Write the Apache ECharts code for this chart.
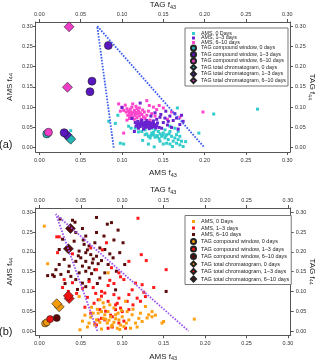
<!DOCTYPE html>
<html>
<head>
<meta charset="utf-8">
<script src="https://cdn.jsdelivr.net/npm/echarts@6/dist/echarts.min.js"></script>
<style>html,body{margin:0;padding:0;background:#fff}#main{width:320px;height:362px}</style>
</head>
<body>
<div id="main"></div>
<script>
// tick values shared by all four axes of both panels
var tickVals = [0, 0.05, 0.10, 0.15, 0.20, 0.25, 0.30];

var legendNames = ['AMS, 0 Days', 'AMS, 1\u20133 days', 'AMS, 6\u201310 days',
    'TAG compound window, 0 days', 'TAG compound window, 1\u20133 days', 'TAG compound window, 6\u201310 days',
    'TAG total chromatogram, 0 days', 'TAG total chromatogram, 1\u20133 days', 'TAG total chromatogram, 6\u201310 days'];

// triangle guide lines [f43, f44]
var triangleA = [[0.09, 0], [0.07, 0.30], [0.20, 0]];
var triangleB = [[0.07, 0], [0.02, 0.295], [0.18, 0]];

// ---- panel (a) ----
var amsA0 = [[0.084,0.065],[0.095,0.080],[0.098,0.011],[0.102,0.009],[0.108,0.053],[0.111,0.048],[0.116,0.048],[0.120,0.039],[0.124,0.040],[0.128,0.032],[0.130,0.034],[0.132,0.028],[0.134,0.024],[0.136,0.036],[0.138,0.032],[0.140,0.026],[0.142,0.030],[0.144,0.040],[0.146,0.034],[0.148,0.028],[0.150,0.036],[0.152,0.024],[0.154,0.032],[0.156,0.020],[0.158,0.040],[0.160,0.028],[0.162,0.016],[0.164,0.024],[0.166,0.032],[0.168,0.020],[0.170,0.007],[0.172,0.016],[0.174,0.003],[0.167,0.098],[0.164,0.048],[0.152,0.044],[0.139,0.002],[0.132,0.009],[0.150,0.009],[0.154,0.011],[0.146,0.016],[0.158,0.009],[0.161,0.003],[0.166,0.011],[0.136,0.048],[0.140,0.044],[0.128,0.044],[0.122,0.053],[0.168,0.040],[0.158,0.053],[0.264,0.095],[0.211,0.083],[0.193,0.036],[0.177,0.015],[0.092,0.060],[0.145,0.022],[0.149,0.031],[0.138,0.038],[0.143,0.027],[0.153,0.029],[0.157,0.034],[0.135,0.030],[0.170,0.028],[0.125,0.018],[0.038,0.042]];
var amsA13 = [[0.116,0.062],[0.118,0.058],[0.119,0.065],[0.120,0.055],[0.121,0.060],[0.122,0.052],[0.123,0.064],[0.124,0.057],[0.125,0.061],[0.126,0.053],[0.127,0.058],[0.128,0.050],[0.128,0.063],[0.129,0.055],[0.130,0.059],[0.131,0.051],[0.132,0.056],[0.133,0.062],[0.134,0.053],[0.135,0.058],[0.136,0.050],[0.137,0.055],[0.138,0.060],[0.139,0.052],[0.140,0.057],[0.141,0.049],[0.142,0.054],[0.120,0.048],[0.124,0.068],[0.130,0.067],[0.117,0.053],[0.126,0.046],[0.133,0.047],[0.138,0.066],[0.143,0.061],[0.145,0.050],[0.122,0.059],[0.127,0.054],[0.131,0.063],[0.135,0.061],[0.100,0.099],[0.122,0.110],[0.140,0.086],[0.146,0.075],[0.152,0.073],[0.156,0.065],[0.162,0.067],[0.166,0.073],[0.170,0.057],[0.174,0.065],[0.148,0.048],[0.142,0.070],[0.150,0.062],[0.158,0.078],[0.164,0.084],[0.168,0.046],[0.155,0.056],[0.160,0.050],[0.112,0.072],[0.147,0.082],[0.153,0.090],[0.135,0.078],[0.172,0.080],[0.115,0.040]];
var amsA610 = [[0.100,0.100],[0.102,0.092],[0.104,0.105],[0.105,0.088],[0.106,0.096],[0.107,0.080],[0.108,0.090],[0.109,0.085],[0.110,0.095],[0.110,0.078],[0.111,0.088],[0.112,0.082],[0.112,0.100],[0.113,0.075],[0.114,0.086],[0.115,0.092],[0.115,0.070],[0.116,0.080],[0.117,0.087],[0.118,0.096],[0.118,0.074],[0.119,0.083],[0.120,0.090],[0.121,0.078],[0.122,0.086],[0.123,0.070],[0.124,0.082],[0.125,0.093],[0.126,0.076],[0.127,0.088],[0.128,0.072],[0.130,0.080],[0.132,0.090],[0.134,0.068],[0.136,0.084],[0.109,0.072],[0.113,0.108],[0.106,0.068],[0.117,0.102],[0.121,0.098],[0.130,0.116],[0.142,0.094],[0.198,0.088],[0.102,0.036],[0.145,0.104],[0.150,0.098],[0.138,0.100],[0.160,0.088],[0.170,0.075],[0.155,0.070],[0.096,0.108],[0.098,0.090],[0.133,0.104],[0.140,0.078]];
var cwA0 = [[0.009,0.034]];
var cwA13 = [[0.0835,0.252],[0.0637,0.164],[0.0613,0.138],[0.030,0.037]];
var cwA610 = [[0.011,0.038]];
var tcA0 = [[0.036,0.025],[0.038,0.021]];
var tcA13 = [[0.033,0.032]];
var tcA610 = [[0.036,0.298],[0.034,0.149]];

// ---- panel (b) ----
var amsB0 = [[0.006,0.265],[0.010,0.170],[0.187,0.030],[0.150,0.024],[0.148,0.020],[0.136,0.036],[0.130,0.033],[0.049,0.003],[0.048,0.087],[0.083,0.147],[0.073,0.079],[0.077,0.071],[0.075,0.049],[0.071,0.045],[0.079,0.041],[0.083,0.049],[0.086,0.036],[0.090,0.058],[0.092,0.041],[0.096,0.028],[0.100,0.036],[0.104,0.075],[0.106,0.049],[0.108,0.028],[0.112,0.041],[0.116,0.020],[0.120,0.032],[0.124,0.024],[0.128,0.062],[0.132,0.041],[0.136,0.049],[0.082,0.020],[0.088,0.015],[0.094,0.007],[0.102,0.011],[0.069,0.028],[0.077,0.032],[0.098,0.015],[0.110,0.007],[0.055,0.040],[0.060,0.020],[0.052,0.025],[0.065,0.045],[0.070,0.055],[0.058,0.010],[0.062,0.035],[0.067,0.015],[0.073,0.022],[0.080,0.030],[0.084,0.027],[0.090,0.022],[0.095,0.045],[0.099,0.052],[0.078,0.060],[0.085,0.066],[0.063,0.060],[0.118,0.010],[0.122,0.045],[0.140,0.040],[0.113,0.055],[0.092,0.031],[0.087,0.012],[0.075,0.005],[0.105,0.020],[0.097,0.004]];
var amsB13 = [[0.119,0.285],[0.153,0.155],[0.129,0.178],[0.021,0.238],[0.069,0.155],[0.081,0.223],[0.108,0.176],[0.123,0.193],[0.098,0.137],[0.096,0.147],[0.083,0.115],[0.075,0.100],[0.079,0.096],[0.090,0.092],[0.096,0.083],[0.108,0.092],[0.112,0.104],[0.116,0.121],[0.124,0.117],[0.128,0.087],[0.118,0.083],[0.122,0.075],[0.071,0.079],[0.083,0.075],[0.092,0.066],[0.098,0.058],[0.073,0.054],[0.079,0.028],[0.088,0.036],[0.100,0.049],[0.075,0.032],[0.071,0.028],[0.096,0.020],[0.104,0.007],[0.069,0.015],[0.083,0.007],[0.092,0.054],[0.108,0.054],[0.106,0.075],[0.024,0.238],[0.028,0.110],[0.035,0.100],[0.040,0.122],[0.030,0.130],[0.045,0.095],[0.052,0.108],[0.060,0.125],[0.065,0.110],[0.058,0.085],[0.066,0.070],[0.062,0.045],[0.055,0.060],[0.085,0.128],[0.090,0.120],[0.102,0.130],[0.088,0.010],[0.080,0.050],[0.086,0.040],[0.094,0.070],[0.075,0.088],[0.068,0.095],[0.113,0.066],[0.126,0.098],[0.138,0.110],[0.087,0.160],[0.076,0.205],[0.040,0.195],[0.062,0.210],[0.067,0.018],[0.102,0.025],[0.022,0.198]];
var amsB610 = [[0.069,0.287],[0.087,0.274],[0.082,0.270],[0.052,0.259],[0.044,0.249],[0.056,0.240],[0.069,0.249],[0.042,0.227],[0.054,0.219],[0.060,0.215],[0.067,0.223],[0.073,0.210],[0.079,0.206],[0.048,0.202],[0.056,0.198],[0.062,0.193],[0.069,0.189],[0.050,0.185],[0.044,0.176],[0.056,0.176],[0.064,0.172],[0.052,0.164],[0.060,0.160],[0.067,0.155],[0.056,0.151],[0.048,0.147],[0.036,0.164],[0.030,0.181],[0.024,0.168],[0.020,0.155],[0.018,0.138],[0.026,0.143],[0.083,0.168],[0.089,0.185],[0.097,0.198],[0.093,0.151],[0.079,0.147],[0.073,0.134],[0.060,0.130],[0.052,0.121],[0.044,0.130],[0.038,0.138],[0.024,0.206],[0.028,0.232],[0.025,0.283],[0.101,0.223],[0.103,0.168],[0.153,0.100],[0.016,0.142],[0.092,0.104],[0.040,0.280],[0.043,0.275],[0.058,0.205],[0.065,0.182],[0.071,0.170],[0.047,0.190],[0.053,0.230],[0.075,0.178],[0.085,0.195],[0.090,0.230],[0.035,0.150],[0.063,0.145],[0.070,0.120],[0.056,0.112],[0.046,0.105],[0.010,0.140],[0.078,0.240],[0.095,0.255],[0.031,0.120]];
var cwB0 = [[0.007,0.019],[0.009,0.022]];
var cwB13 = [[0.013,0.030]];
var cwB610 = [[0.021,0.033]];
var tcB0 = [[0.024,0.061],[0.021,0.069]];
var tcB13 = [[0.036,0.082],[0.035,0.089]];
var tcB610 = [[0.0375,0.259],[0.035,0.208]];

var colorsA = ['#33cccc', '#6a22d0', '#ff44cc'];
var bigColorsA = ['#28b4b4', '#5a16bf', '#ee3ec8'];
var colorsB = ['#ffa010', '#ff1a1a', '#5a0a0a'];
var bigColorsB = ['#f29a0a', '#f01010', '#5a0808'];

var chartDom = document.getElementById('main');
var myChart = echarts.init(chartDom);

var font = 'Liberation Sans, Arial, sans-serif';
var axisColor = '#555';

function axisName(main, sub) {
    return '{t|' + main + '}{s|' + sub + '}';
}
var nameStyle = {
    fontFamily: font,
    color: '#222',
    rich: {
        t: { fontSize: 8, fontFamily: font, color: '#222' },
        s: { fontSize: 5.5, fontFamily: font, color: '#222', padding: [4, 0, 0, 0] }
    }
};

function makeAxis(grid, pos, min, max, name, gap, margin) {
    var ax = {
        type: 'value', gridIndex: grid, position: pos, min: min, max: max,
        name: name, nameLocation: 'middle', nameGap: gap, nameTextStyle: nameStyle,
        nameMoveOverlap: false,
        axisLine: { show: true, onZero: false, lineStyle: { color: axisColor, width: 1 } },
        axisTick: { show: true, length: 3, customValues: tickVals, lineStyle: { color: axisColor } },
        axisLabel: {
            customValues: tickVals, fontSize: 5.5, fontFamily: font, color: '#333', margin: margin,
            formatter: function (v) { return v.toFixed(2); }
        },
        splitLine: { show: false }
    };
    if (pos === 'right') ax.nameRotate = -90;
    return ax;
}

var xMin = -0.0044, xMax = 0.3033;

function scatter(name, data, xi, yi, color, symbol, size, border) {
    return {
        name: name, type: 'scatter', xAxisIndex: xi, yAxisIndex: yi,
        data: data, symbol: symbol, symbolSize: size, silent: true,
        itemStyle: border ? { color: color, borderColor: '#222', borderWidth: 0.6, opacity: 1 } : { color: color, opacity: 1 }
    };
}

function tri(data, xi, yi, color) {
    return {
        type: 'line', xAxisIndex: xi, yAxisIndex: yi, data: data, symbol: 'none', silent: true,
        lineStyle: { color: color, width: 1.8, type: [1.6, 1.4] }
    };
}

var smallIcon = 'path://M0,0M2,2h6v6h-6zM10,10';
var icons = [smallIcon, smallIcon, smallIcon, 'circle', 'circle', 'circle', 'diamond', 'diamond', 'diamond'];

function legendFor(prefix, top, gap, fontSize) {
    return {
        orient: 'vertical', left: 185, top: top,
        data: legendNames.map(function (n, i) { return { name: prefix + n, icon: icons[i] }; }),
        formatter: function (n) { return n.replace(/^b:/, ''); },
        itemWidth: 5, itemHeight: 5, itemGap: gap,
        padding: [3, 2, 2, 5],
        backgroundColor: '#fff', borderColor: '#777', borderWidth: 1, borderRadius: 0,
        textStyle: { fontSize: fontSize, lineHeight: 5, fontFamily: font, color: '#222' },
        selectedMode: false
    };
}

var option = {
    animation: false,
    backgroundColor: '#fff',
    title: [
        { text: '(a)', left: -1, top: 139, padding: 0, textStyle: { fontSize: 11, fontWeight: 'normal', fontFamily: font, color: '#222' } },
        { text: '(b)', left: -1, top: 326, padding: 0, textStyle: { fontSize: 11, fontWeight: 'normal', fontFamily: font, color: '#222' } }
    ],
    grid: [
        { left: 35.7, right: 30, top: 22, height: 130, outerBoundsMode: 'none', containLabel: false },
        { left: 35.7, right: 29.3, top: 208, height: 127.3, outerBoundsMode: 'none', containLabel: false }
    ],
    xAxis: [
        makeAxis(0, 'bottom', xMin, xMax, axisName('AMS f', '43'), 16, 5),
        makeAxis(0, 'top', xMin, xMax, axisName('TAG f', '43'), 12, 5),
        makeAxis(1, 'bottom', xMin, xMax, axisName('AMS f', '43'), 16, 5),
        makeAxis(1, 'top', xMin, xMax, axisName('TAG f', '43'), 13, 5)
    ],
    yAxis: [
        makeAxis(0, 'left', -0.0106, 0.3099, axisName('AMS f', '44'), 21, 3),
        makeAxis(0, 'right', -0.0106, 0.3099, axisName('TAG f', '44'), 17, 5),
        makeAxis(1, 'left', -0.0109, 0.3109, axisName('AMS f', '44'), 21, 3),
        makeAxis(1, 'right', -0.0109, 0.3109, axisName('TAG f', '44'), 17, 5)
    ],
    legend: [
        legendFor('', 28, -0.5, 5.3),
        legendFor('b:', 215.5, 0.5, 5.5)
    ],
    series: [
        tri(triangleA, 0, 0, '#3a5cf0'),
        scatter(legendNames[0], amsA0, 0, 0, colorsA[0], 'rect', 3, false),
        scatter(legendNames[2], amsA610, 0, 0, colorsA[2], 'rect', 3, false),
        scatter(legendNames[1], amsA13, 0, 0, colorsA[1], 'rect', 3, false),
        scatter(legendNames[6], tcA0, 1, 1, bigColorsA[0], 'diamond', 10, true),
        scatter(legendNames[3], cwA0, 1, 1, bigColorsA[0], 'circle', 8, true),
        scatter(legendNames[5], cwA610, 1, 1, bigColorsA[2], 'circle', 8, true),
        scatter(legendNames[7], tcA13, 1, 1, bigColorsA[1], 'diamond', 10, true),
        scatter(legendNames[4], cwA13, 1, 1, bigColorsA[1], 'circle', 8, true),
        scatter(legendNames[8], tcA610, 1, 1, bigColorsA[2], 'diamond', 10, true),

        tri(triangleB, 2, 2, '#9b55f0'),
        scatter('b:' + legendNames[2], amsB610, 2, 2, colorsB[2], 'rect', 3, false),
        scatter('b:' + legendNames[1], amsB13, 2, 2, colorsB[1], 'rect', 3, false),
        scatter('b:' + legendNames[0], amsB0, 2, 2, colorsB[0], 'rect', 3, false),
        scatter('b:' + legendNames[6], tcB0, 3, 3, bigColorsB[0], 'diamond', 10, true),
        scatter('b:' + legendNames[7], tcB13, 3, 3, bigColorsB[1], 'diamond', 10, true),
        scatter('b:' + legendNames[8], tcB610, 3, 3, bigColorsB[2], 'diamond', 10, true),
        scatter('b:' + legendNames[3], cwB0, 3, 3, bigColorsB[0], 'circle', 7, true),
        scatter('b:' + legendNames[4], cwB13, 3, 3, bigColorsB[1], 'circle', 7, true),
        scatter('b:' + legendNames[5], cwB610, 3, 3, bigColorsB[2], 'circle', 7, true)
    ]
};

myChart.setOption(option);
</script>
</body>
</html>
